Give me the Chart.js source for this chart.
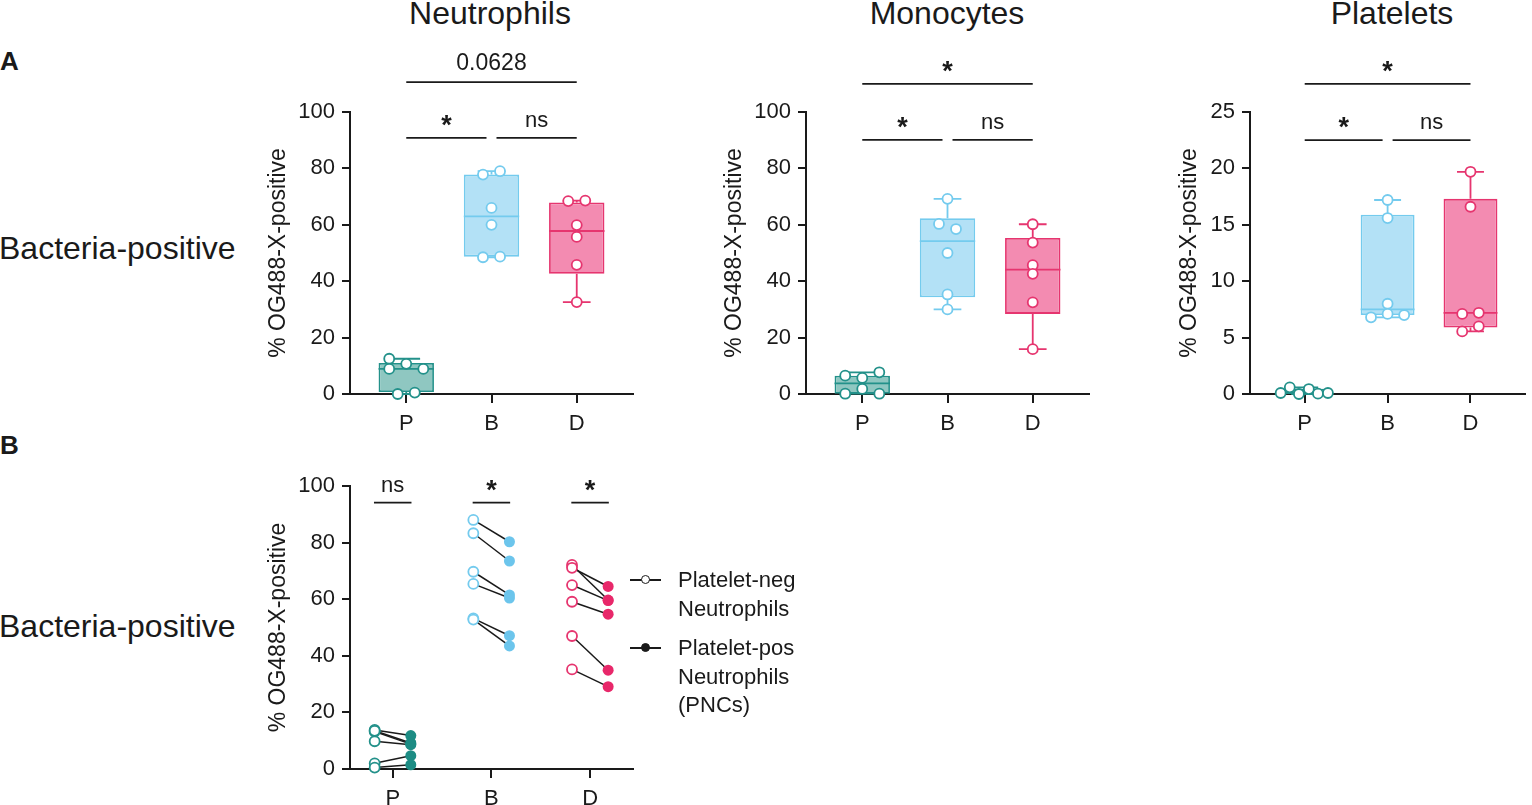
<!DOCTYPE html>
<html>
<head>
<meta charset="utf-8">
<script src="https://cdn.jsdelivr.net/npm/chart.js@4.4.1/dist/chart.umd.min.js"></script>
<style>
  body { margin: 0; background: #fff; }
  #fig { position: relative; width: 1532px; height: 805px; overflow: hidden;
         font-family: 'Liberation Sans', Arial, sans-serif; color: #1a1a1a; }
  #fig canvas { position: absolute; }
  .t { position: absolute; white-space: nowrap; line-height: 1; }
  .c { transform: translateX(-50%); }
  .leg { position: absolute; left: 630px; width: 31px; height: 2px; background: #1a1a1a; }
  .leg i { position: absolute; left: 11px; top: -4px; width: 7px; height: 7px; border: 1.5px solid #1a1a1a;
           border-radius: 50%; background: #fff; }
</style>
</head>
<body>
<div id="fig">
  <div class="t c" style="left:490px;top:-3px;font-size:32px">Neutrophils</div>
  <div class="t c" style="left:947px;top:-3px;font-size:32px">Monocytes</div>
  <div class="t c" style="left:1392px;top:-3px;font-size:32px">Platelets</div>
  <div class="t" style="left:0;top:48px;font-size:26px;font-weight:bold">A</div>
  <div class="t" style="left:0;top:432px;font-size:26px;font-weight:bold">B</div>
  <div class="t" style="left:-1px;top:232px;font-size:32px">Bacteria-positive</div>
  <div class="t" style="left:-1px;top:610px;font-size:32px">Bacteria-positive</div>

  <canvas id="neut" width="380" height="400" style="left:260px;top:40px"></canvas>
  <canvas id="mono" width="380" height="400" style="left:716px;top:40px"></canvas>
  <canvas id="plat" width="372" height="400" style="left:1160px;top:40px"></canvas>
  <canvas id="pair" width="380" height="375" style="left:260px;top:440px"></canvas>

  <div class="leg" style="top:579px"><i></i></div>
  <div class="leg" style="top:647px"><i style="background:#1a1a1a"></i></div>
  <div class="t" style="left:678px;top:566px;font-size:22px;line-height:28.7px">Platelet-neg<br>Neutrophils</div>
  <div class="t" style="left:678px;top:634px;font-size:22px;line-height:28.7px">Platelet-pos<br>Neutrophils<br>(PNCs)</div>
</div>

<script>
const groups = ['P', 'B', 'D'];

// panel A: % OG488-X-positive per donor, groups P, B, D
const neutPts = [[12.5, 10.7, 8.9, 8.9, 0, 0.5], [79.0, 77.8, 66.0, 60.0, 48.5, 48.7], [68.4, 68.6, 59.9, 55.7, 45.8, 32.6]];
const neutJit = [[-0.2, 0, -0.2, 0.2, -0.1, 0.1], [0.1, -0.1, 0, 0, -0.1, 0.1], [-0.1, 0.1, 0, 0, 0, 0]];
const neutBox = [[0, 0.7, 8.9, 11.0, 12.5], [48.5, 48.7, 63.0, 77.8, 79.0], [32.6, 42.6, 57.8, 67.9, 68.6]]; // min q1 med q3 max
const neutSig = [[0, 1, 90.8, '*'], [1, 2, 90.8, 'ns'], [0, 2, 110.6, '0.0628']];

const monoPts = [[6.5, 5.7, 7.7, 0.1, 1.8, 0.1], [69.2, 60.3, 58.5, 50.0, 35.3, 30.0], [60.2, 53.7, 45.7, 42.6, 32.5, 15.9]];
const monoJit = [[-0.2, 0, 0.2, -0.2, 0, 0.2], [0, -0.1, 0.1, 0, 0, 0], [0, 0, 0, 0, 0, 0]];
const monoBox = [[0.1, 0.1, 3.75, 6.5, 7.7], [30.0, 34.3, 54.2, 62.3, 69.2], [15.9, 28.4, 44.1, 55.3, 60.2]];
const monoSig = [[0, 1, 90.1, '*'], [1, 2, 90.1, 'ns'], [0, 2, 110, '*']];

const platPts = [[0.09, 0.59, 0, 0.44, 0.03, 0.09], [17.2, 15.6, 8.0, 6.8, 7.1, 7.0], [19.7, 16.6, 7.1, 7.2, 5.55, 6.0]];
const platJit = [[-0.29, -0.18, -0.07, 0.05, 0.16, 0.28], [0, 0, 0, -0.2, 0, 0.2], [0, 0, -0.1, 0.1, -0.1, 0.1]];
const platBox = [[0, 0.03, 0.09, 0.47, 0.59], [6.8, 7.0, 7.5, 15.9, 17.2], [5.55, 5.9, 7.2, 17.3, 19.7]];
const platSig = [[0, 1, 22.5, '*'], [1, 2, 22.5, 'ns'], [0, 2, 27.5, '*']];

// panel B: platelet-neg vs platelet-pos neutrophils, paired per donor
const pairNeg = [[13.8, 13.2, 13.5, 9.8, 2.0, 0.5], [88.0, 83.3, 69.7, 65.4, 53.2, 52.8], [72.1, 71.1, 65.0, 59.1, 47.0, 35.2]];
const pairPos = [[11.8, 8.8, 9.2, 8.6, 4.7, 1.5], [80.3, 73.5, 61.5, 60.4, 47.1, 43.5], [59.7, 64.5, 59.5, 54.7, 34.9, 29.1]];
const pairSig = [[0, 94.1, 'ns'], [1, 94.1, '*'], [2, 94.1, '*']];

const ink = '#1a1a1a';
const boxFill = ['#8fc7c1', '#b3e1f6', '#f38bb1'];
const boxLine = ['#23918a', '#74cbee', '#e6356f'];
const dotFill = ['#1d8c84', '#6cc5ec', '#e8286a'];

Chart.defaults.font.family = "'Liberation Sans', Arial, sans-serif";
Chart.defaults.color = ink;

function axes(xMin, xMax, yMax, yStep, titlePad) {
  return {
    x: {
      type: 'linear', min: xMin, max: xMax, offset: false,
      afterBuildTicks: s => { s.ticks = groups.map((g, i) => ({ value: i })); },
      afterFit: s => { s.height = 46; },
      border: { display: true, color: ink, width: 2 },
      grid: { display: true, offset: false, drawOnChartArea: false, tickLength: 9, color: ink, lineWidth: 2 },
      ticks: { callback: v => groups[v], padding: 8, font: { size: 22 }, maxRotation: 0, autoSkip: false }
    },
    y: {
      min: 0, max: yMax,
      afterFit: s => { s.width = 90; },
      border: { display: true, color: ink, width: 2 },
      grid: { drawOnChartArea: false, tickLength: 8, color: ink, lineWidth: 2 },
      ticks: { stepSize: yStep, padding: 7, font: { size: 22 } },
      title: { display: true, text: '% OG488-X-positive', font: { size: 23 }, padding: { top: titlePad, bottom: 0 } }
    }
  };
}

// whiskers + median on top of the floating bars
const whiskers = box => ({
  id: 'whiskers',
  afterDatasetDraw(chart, args) {
    if (args.meta.type !== 'bar') return;
    const { ctx, scales: { x, y } } = chart;
    ctx.save();
    ctx.lineWidth = 1.8;
    box.forEach(([lo, q1, med, q3, hi], i) => {
      const cx = x.getPixelForValue(i);
      const w = args.meta.data[i].width / 2;
      const cap = w / 2;
      ctx.strokeStyle = boxLine[i];
      ctx.beginPath();
      ctx.moveTo(cx, y.getPixelForValue(q3)); ctx.lineTo(cx, y.getPixelForValue(hi));
      ctx.moveTo(cx - cap, y.getPixelForValue(hi)); ctx.lineTo(cx + cap, y.getPixelForValue(hi));
      ctx.moveTo(cx, y.getPixelForValue(q1)); ctx.lineTo(cx, y.getPixelForValue(lo));
      ctx.moveTo(cx - cap, y.getPixelForValue(lo)); ctx.lineTo(cx + cap, y.getPixelForValue(lo));
      ctx.moveTo(cx - w, y.getPixelForValue(med)); ctx.lineTo(cx + w, y.getPixelForValue(med));
      ctx.stroke();
    });
    ctx.restore();
  }
});

function sigMark(ctx, x1, x2, py, label) {
  ctx.beginPath();
  ctx.moveTo(x1, py); ctx.lineTo(x2, py);
  ctx.stroke();
  if (label === '*') {
    ctx.font = "bold 27px 'Liberation Sans', Arial, sans-serif";
    ctx.fillText(label, (x1 + x2) / 2, py - 4);
  } else if (label === 'ns') {
    ctx.font = "22px 'Liberation Sans', Arial, sans-serif";
    ctx.fillText(label, (x1 + x2) / 2, py - 11);
  } else {
    ctx.font = "23px 'Liberation Sans', Arial, sans-serif";
    ctx.fillText(label, (x1 + x2) / 2, py - 12);
  }
}

const brackets = sig => ({
  id: 'brackets',
  afterDraw(chart) {
    const { ctx, scales: { x, y } } = chart;
    ctx.save();
    ctx.strokeStyle = ink; ctx.fillStyle = ink; ctx.lineWidth = 1.8;
    ctx.textAlign = 'center'; ctx.textBaseline = 'alphabetic';
    sig.forEach(([a, b, lvl, label]) => {
      let x1 = x.getPixelForValue(a), x2 = x.getPixelForValue(b);
      if (b - a === 1) { if (a === 1) x1 += 5; if (b === 1) x2 -= 5; }
      sigMark(ctx, x1, x2, y.getPixelForValue(lvl), label);
    });
    ctx.restore();
  }
});

function boxChart(id, pts, jit, box, sig, yMax, yStep, titlePad) {
  const dots = [], dotColors = [];
  pts.forEach((g, i) => g.forEach((v, k) => {
    dots.push({ x: i + jit[i][k], y: v });
    dotColors.push(boxLine[i]);
  }));
  new Chart(document.getElementById(id), {
    type: 'bar',
    data: {
      datasets: [
        { type: 'scatter', data: dots, order: 0, clip: false,
          pointRadius: 5, pointBorderWidth: 1.8, pointBackgroundColor: '#fff', pointBorderColor: dotColors },
        { type: 'bar', order: 1, data: box.map((b, i) => ({ x: i, y: [b[1], b[3]] })),
          backgroundColor: boxFill, borderColor: boxLine, borderWidth: 1.8, borderSkipped: false,
          barPercentage: 1, categoryPercentage: 0.65 }
      ]
    },
    options: {
      responsive: false, animation: false,
      layout: { padding: { top: 72, right: id === 'plat' ? 0 : 7, left: 0, bottom: 0 } },
      plugins: { legend: { display: false }, tooltip: { enabled: false } },
      scales: axes(-0.66, 2.66, yMax, yStep, titlePad)
    },
    plugins: [whiskers(box), brackets(sig)]
  });
}

boxChart('neut', neutPts, neutJit, neutBox, neutSig, 100, 20, 5);
boxChart('mono', monoPts, monoJit, monoBox, monoSig, 100, 20, 5);
boxChart('plat', platPts, platJit, platBox, platSig, 25, 5, 16);

// panel B, paired before/after lines
const off = 0.183;
const pairSets = [];
groups.forEach((g, i) => {
  pairNeg[i].forEach((v, k) => {
    pairSets.push({ type: 'line', order: 2, data: [{ x: i - off, y: v }, { x: i + off, y: pairPos[i][k] }],
      borderColor: ink, borderWidth: 1.5, pointRadius: 0, clip: false });
  });
  pairSets.push({ type: 'scatter', order: 0, clip: false, data: pairNeg[i].map(v => ({ x: i - off, y: v })),
    pointRadius: 5, pointBorderWidth: 1.8, pointBackgroundColor: '#fff', pointBorderColor: boxLine[i] });
  pairSets.push({ type: 'scatter', order: 0, clip: false, data: pairPos[i].map(v => ({ x: i + off, y: v })),
    pointRadius: 5.5, pointBorderWidth: 0, pointBackgroundColor: dotFill[i] });
});

const pairBrackets = {
  id: 'pairBrackets',
  afterDraw(chart) {
    const { ctx, scales: { x, y } } = chart;
    ctx.save();
    ctx.strokeStyle = ink; ctx.fillStyle = ink; ctx.lineWidth = 1.8;
    ctx.textAlign = 'center'; ctx.textBaseline = 'alphabetic';
    pairSig.forEach(([g, lvl, label]) => {
      sigMark(ctx, x.getPixelForValue(g - 0.19), x.getPixelForValue(g + 0.19), y.getPixelForValue(lvl), label);
    });
    ctx.restore();
  }
};

new Chart(document.getElementById('pair'), {
  type: 'scatter',
  data: { datasets: pairSets },
  options: {
    responsive: false, animation: false,
    layout: { padding: { top: 46, right: 7, left: 0, bottom: 0 } },
    plugins: { legend: { display: false }, tooltip: { enabled: false } },
    scales: axes(-0.433, 2.435, 100, 20, 5)
  },
  plugins: [pairBrackets]
});
</script>
</body>
</html>
